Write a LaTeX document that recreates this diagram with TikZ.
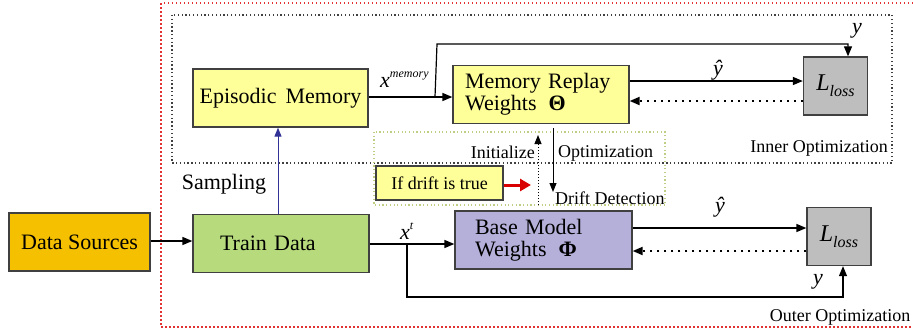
\documentclass[tikz,border=0pt]{standalone}
\usepackage{fontspec}
\setmainfont{Liberation Serif}
\usetikzlibrary{arrows.meta}

\definecolor{memyellow}{RGB}{255,255,153}
\definecolor{srcorange}{RGB}{244,192,0}
\definecolor{traingreen}{RGB}{183,218,124}
\definecolor{baselilac}{RGB}{180,176,218}
\definecolor{lossgray}{RGB}{190,190,190}
\definecolor{boxline}{RGB}{64,64,64}
\definecolor{outerred}{RGB}{228,50,50}
\definecolor{driftgreen}{RGB}{190,206,130}
\definecolor{sampleblue}{RGB}{50,50,150}

\begin{document}
\begin{tikzpicture}[x=1pt, y=-1pt,
    box/.style={draw=boxline, line width=1.3pt, minimum height=58pt,
        inner sep=0pt, font=\fontsize{22}{22}\selectfont},
    memorybox/.style={box, fill=memyellow},
    lossbox/.style={box, fill=lossgray, minimum width=64pt},
    lbl/.style={font=\fontsize{18}{20}\selectfont, inner sep=0pt},
    mlbl/.style={font=\fontsize{22}{22}\selectfont\itshape, inner sep=0pt},
    arr/.style={line width=1.5pt, -{Triangle[length=10pt,width=8pt]}},
    backarr/.style={arr, line width=2pt, dash pattern=on 2pt off 5pt},
    thinarr/.style={line width=1pt, -{Triangle[length=9pt,width=7pt]}}]

\useasboundingbox (0,0) rectangle (913,333);

% frames
\draw[outerred, line width=1.3pt, dash pattern=on 1.5pt off 2.5pt]
    (913,3) -- (161,3) -- (161,327) -- (913,327);
\draw[black!75, line width=1.3pt, dash pattern=on 1.3pt off 2.5pt]
    (172,15) rectangle (892,163);
\draw[driftgreen, line width=1.2pt, dash pattern=on 1.2pt off 2.5pt]
    (374,132) rectangle (665,205);

% boxes
\node[box, fill=srcorange, minimum width=141pt] (src) at (79.5,242) {Data Sources};
\node[box, fill=traingreen, minimum width=176pt, align=left, text width=122pt] (train) at (281,243.5) {Train Data};
\node[memorybox, minimum width=175pt] (epi) at (280.5,98) {Episodic\hspace{9pt}Memory};
\node[memorybox, minimum width=176pt, align=left, text width=152pt] (replay) at (541,94.5)
    {Memory Replay\\Weights\hspace{12pt}\textbf{Θ}};
\node[box, fill=baselilac, minimum width=177pt, align=left, text width=137pt] (base) at (543.5,240)
    {Base Model\\Weights\hspace{12pt}\textbf{Φ}};
\node[lossbox] (lossin) at (835.5,86)
    {\fontsize{24}{24}\selectfont\textit{L}\raisebox{-6pt}{\fontsize{16}{16}\selectfont\textit{loss}}};
\node[lossbox] (lossout) at (839,236.5)
    {\fontsize{24}{24}\selectfont\textit{L}\raisebox{-6pt}{\fontsize{16}{16}\selectfont\textit{loss}}};
\node[memorybox, minimum width=127pt, minimum height=34pt, font=\fontsize{18}{20}\selectfont]
    (drift) at (439.5,183) {If drift is true};

% labels
\node[lbl, font=\fontsize{22}{22}\selectfont] (sampling) at (224,184) {Sampling};
\node[lbl, anchor=east] (init) at (535,152) {Initialize};
\node[lbl, anchor=west] (optim) at (558,153) {Optimization};
\node[lbl, anchor=west] (detect) at (555,198) {Drift Detection};
\node[lbl] (inner) at (819,148) {Inner Optimization};
\node[lbl] (outer) at (840,317) {Outer Optimization};
\node[mlbl, anchor=base west] (xmem) at (380,87)
    {x\raisebox{10pt}{\fontsize{12}{12}\selectfont memory}};
\node[mlbl, anchor=base west] (xt) at (400,239)
    {x\raisebox{10pt}{\fontsize{12}{12}\selectfont t}};
\node[mlbl] (yin) at (857,31) {y};
\node[mlbl] (yout) at (818,282) {y};
\node[mlbl] (yhatin) at (718,70) {ŷ};
\node[mlbl] (yhatout) at (720,207) {ŷ};

% connectors
\coordinate (split1) at (435,97);
\coordinate (split2) at (407,244);
\coordinate (initfoot) at (538,205);
\coordinate (inithead) at (538,135);
\coordinate (optfoot) at (553,192);
\coordinate (opthead) at (553,128);
\coordinate (redhead) at (531,185);

\draw[arr] (src.east |- 0,241) -- (train.west |- 0,241);
\draw[arr] (epi.east |- split1) -- (replay.west |- split1);
\draw[line width=1.2pt, -{Triangle[length=10pt,width=8pt]}]
    (split1) -- (437,44) -- (848,44) -- (lossin.north -| 848,0);
\draw[arr] (replay.east |- 0,81) -- (lossin.west |- 0,81);
\draw[backarr] (lossin.west |- 0,101) -- (replay.east |- 0,101);
\draw[thinarr, sampleblue] (train.north -| 278,0) -- (epi.south -| 278,0);
\draw[line width=1pt, dotted, -{Triangle[length=9pt,width=7pt]}] (initfoot) -- (inithead);
\draw[thinarr] (opthead) -- (optfoot);
\draw[red!85!black, line width=3pt, -{Triangle[length=11pt,width=12pt]}]
    (drift.east |- redhead) -- (redhead);
\draw[arr] (train.east |- split2) -- (base.west |- split2);
\draw[line width=1.2pt, -{Triangle[length=10pt,width=8pt]}]
    (split2) -- (407,297) -- (843,297) -- (lossout.south -| 843,0);
\draw[arr] (base.east |- 0,228) -- (lossout.west |- 0,228);
\draw[backarr] (lossout.west |- 0,251) -- (base.east |- 0,251);

\end{tikzpicture}
\end{document}
